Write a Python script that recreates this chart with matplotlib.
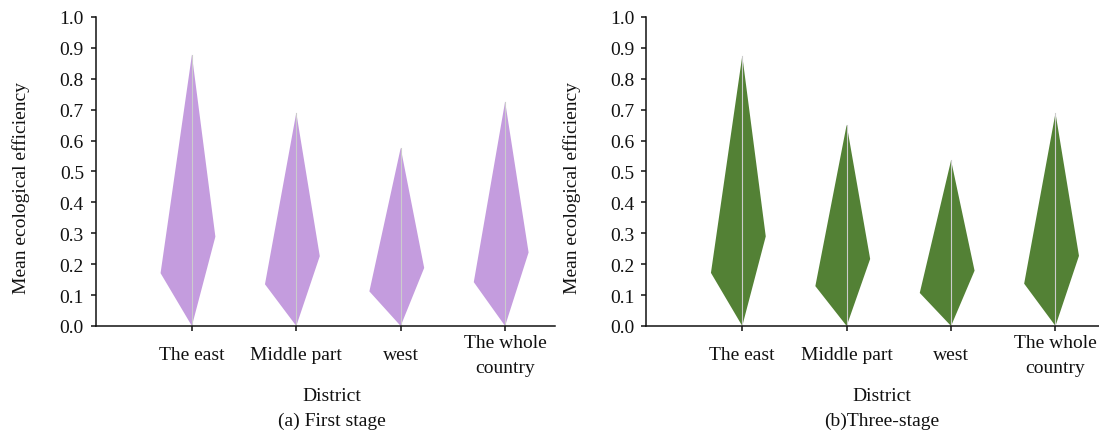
import numpy as np
import matplotlib
matplotlib.use("Agg")
import matplotlib.pyplot as plt
from matplotlib.patches import Polygon

plt.rcParams['font.family'] = ['Liberation Serif', 'DejaVu Serif']
plt.rcParams['font.size'] = 14

districts = ['The east', 'Middle part', 'west', 'The whole\ncountry']

# kite shapes: top value, left corner value, right corner value (bottom is 0)
first_top = [0.877, 0.690, 0.576, 0.726]
first_left = [0.171, 0.135, 0.112, 0.142]
first_right = [0.289, 0.226, 0.188, 0.238]

three_top = [0.874, 0.651, 0.536, 0.689]
three_left = [0.172, 0.129, 0.107, 0.137]
three_right = [0.290, 0.217, 0.179, 0.227]

yticks = np.round(np.arange(0, 1.01, 0.1), 1)

fig = plt.figure(figsize=(10.99, 4.31), dpi=100)
ax1 = fig.add_axes([0.0872, 0.2413, 0.418, 0.717])
ax2 = fig.add_axes([0.588, 0.2413, 0.418, 0.717])


def draw_panel(ax, top, left, right, color, caption):
    x = np.arange(1, len(districts) + 1)
    for i in range(len(x)):
        pts = [(x[i], 0), (x[i] - 0.30, left[i]), (x[i], top[i]), (x[i] + 0.225, right[i])]
        ax.add_patch(Polygon(pts, closed=True, facecolor=color, edgecolor='none'))
        ax.plot([x[i], x[i]], [0, top[i]], color='#cccccc', lw=0.8)

    ax.set_xlim(0.08, 4.48)
    ax.set_ylim(0, 1.0)
    ax.set_yticks(yticks)
    ax.set_yticklabels(['%.1f' % v for v in yticks])
    ax.set_xticks(x)
    ax.set_xticklabels(districts, linespacing=1.6)
    for lab in ax.get_xticklabels():
        lab.set_va('center')

    for s in ['top', 'right']:
        ax.spines[s].set_visible(False)
    for s in ['left', 'bottom']:
        ax.spines[s].set_linewidth(1.1)
        ax.spines[s].set_color('#111111')
    ax.tick_params(axis='y', length=3.6, width=1.1, pad=5, colors='#111111')
    ax.tick_params(axis='x', length=3.6, width=1.1, pad=17, colors='#111111')
    ax.spines['bottom'].set_clip_on(False)

    ax.text(-0.162, 0.45, 'Mean ecological efficiency', rotation=90,
            ha='center', va='center', transform=ax.transAxes, color='#111111')
    ax.text(0.513, -0.225, 'District', ha='center', va='center',
            transform=ax.transAxes, color='#111111')
    ax.text(0.513, -0.305, caption, ha='center', va='center',
            transform=ax.transAxes, color='#111111')


draw_panel(ax1, first_top, first_left, first_right, '#c49cde', '(a) First stage')
draw_panel(ax2, three_top, three_left, three_right, '#538135', '(b)Three-stage')

fig.savefig('out.png', dpi=100)
